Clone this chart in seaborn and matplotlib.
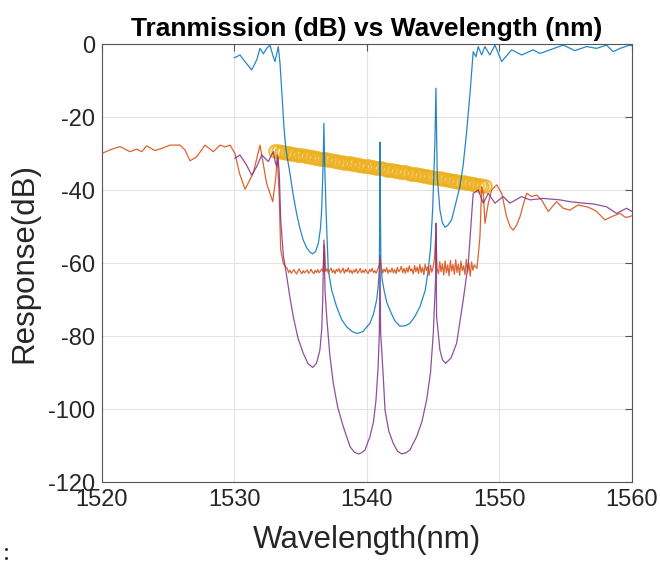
import numpy as np
import matplotlib
matplotlib.use("Agg")
import matplotlib.pyplot as plt
import seaborn as sns

# ---- data (wavelength in nm, response in dB) ----
blue_wl = [1530.0, 1530.43, 1530.8, 1531.31, 1531.69, 1531.94, 1532.19, 1532.44, 1532.69, 1532.94,
           1533.07, 1533.32, 1533.45, 1533.6, 1533.75, 1533.9, 1534.2, 1534.45, 1534.7, 1534.95,
           1535.2, 1535.46, 1535.7, 1535.91, 1536.14, 1536.34, 1536.5, 1536.59, 1536.71, 1536.76,
           1536.81, 1536.92, 1537.09, 1537.35, 1537.72, 1538.1, 1538.48, 1538.9, 1539.28, 1539.7,
           1540.23, 1540.5, 1540.74, 1540.85, 1540.94, 1540.97, 1540.99, 1541.02, 1541.06, 1541.15,
           1541.3, 1541.5, 1541.74, 1542.1, 1542.5, 1542.9, 1543.25, 1543.6, 1544.0, 1544.4,
           1544.63, 1544.8, 1544.96, 1545.13, 1545.21, 1545.31, 1545.51, 1545.7, 1545.89, 1546.1,
           1546.39, 1546.77, 1547.02, 1547.27, 1547.5, 1547.77, 1548.02, 1548.23, 1548.4, 1548.66,
           1548.9, 1549.28, 1549.66, 1550.17, 1550.92, 1551.67, 1552.55, 1553.05, 1553.81, 1554.81,
           1555.69, 1556.58, 1557.33, 1558.08, 1558.58, 1559.09, 1559.84, 1560.0]
blue_db = [-3.8, -3.0, -4.8, -7.1, -4.4, -1.2, -2.7, -1.2, -0.3, -3.5,
           -4.8, -0.7, -5.3, -14.0, -23.0, -29.0, -35.5, -41.5, -46.4, -50.5,
           -53.7, -55.8, -57.0, -57.5, -56.8, -54.6, -50.5, -45.5, -31.8, -21.7,
           -31.8, -45.5, -61.9, -67.5, -72.0, -75.5, -77.5, -78.8, -79.3, -78.8,
           -76.5, -74.0, -70.1, -66.5, -61.9, -45.5, -26.9, -45.5, -60.0, -64.5,
           -67.5, -70.8, -72.9, -75.8, -77.3, -77.2, -76.5, -74.8, -72.0, -67.5,
           -61.9, -56.0, -45.5, -27.2, -12.1, -36.4, -45.5, -49.0, -50.2, -49.7,
           -48.2, -42.7, -39.0, -33.0, -25.0, -14.0, -2.1, -3.5, -0.7, -3.0,
           -0.7, -3.0, -0.3, -4.8, -1.6, -3.0, -1.6, -2.6, -1.6, -0.3,
           -1.8, -0.7, -1.2, -0.3, -2.1, -1.2, -0.3, -0.5]

purple_wl = [1530.05, 1530.43, 1530.93, 1531.31, 1531.69, 1532.07, 1532.57, 1532.94, 1533.1, 1533.2,
             1533.3, 1533.4, 1533.5, 1533.7, 1533.95, 1534.2, 1534.45, 1534.8, 1535.2, 1535.55,
             1535.91, 1536.2, 1536.46, 1536.6, 1536.67, 1536.76, 1536.85, 1536.97, 1537.2, 1537.47,
             1537.8, 1538.22, 1538.73, 1539.05, 1539.35, 1539.6, 1539.86, 1540.23, 1540.5, 1540.69,
             1540.85, 1540.94, 1540.99, 1541.04, 1541.12, 1541.25, 1541.37, 1541.65, 1541.99, 1542.3,
             1542.62, 1542.95, 1543.25, 1543.75, 1544.15, 1544.51, 1544.8, 1545.01, 1545.19, 1545.21,
             1545.26, 1545.51, 1545.7, 1545.94, 1546.35, 1546.77, 1547.27, 1547.65, 1548.02, 1548.4,
             1548.78, 1549.16, 1549.66, 1550.29, 1550.79, 1551.67, 1552.3, 1553.3, 1554.56, 1555.32,
             1556.32, 1557.07, 1558.08, 1558.84, 1559.59, 1560.0]
purple_db = [-31.3, -30.4, -33.2, -35.9, -33.6, -30.4, -32.2, -29.5, -32.5, -33.5,
             -31.0, -36.0, -48.0, -58.0, -63.5, -69.5, -74.7, -80.5, -84.7, -87.5,
             -88.6, -87.5, -83.8, -78.0, -70.1, -53.7, -68.0, -74.7, -85.0, -93.0,
             -99.5, -104.8, -110.3, -111.8, -112.3, -112.0, -111.2, -107.6, -103.5, -97.5,
             -88.5, -79.3, -58.0, -79.3, -83.8, -92.0, -100.3, -106.0, -109.4, -111.5,
             -112.3, -112.0, -111.2, -107.6, -103.5, -97.5, -90.0, -79.3, -63.8, -49.1,
             -74.7, -83.8, -86.5, -87.5, -86.0, -82.0, -70.1, -60.0, -40.9, -40.0,
             -43.6, -40.9, -43.6, -41.8, -43.6, -41.8, -42.7, -42.3, -42.7, -43.2,
             -43.6, -43.8, -44.6, -46.4, -45.0, -45.9]

orange_left_wl = [1520.0, 1520.63, 1521.38, 1522.13, 1522.64, 1523.02, 1523.39, 1524.02, 1524.6, 1525.15,
                  1525.9, 1526.28, 1526.66, 1527.16, 1527.79, 1528.42, 1528.92, 1529.3, 1529.68, 1530.05,
                  1530.4, 1530.81, 1531.43, 1531.94, 1532.44, 1532.9, 1533.14, 1533.24, 1533.39, 1533.5,
                  1533.7, 1533.9]
orange_left_db = [-30.0, -29.0, -28.1, -29.5, -28.8, -29.5, -27.9, -29.2, -28.5, -27.7,
                  -27.7, -29.0, -32.0, -30.9, -27.7, -29.5, -27.7, -28.2, -27.7, -30.0,
                  -35.5, -39.8, -35.4, -27.7, -38.2, -43.2, -36.3, -30.4, -41.8, -56.4,
                  -60.1, -61.2]

# noisy stop-band floor, sampled every 0.1 nm from 1534.0 nm
orange_floor_start = 1534.0
orange_floor_step = 0.1
orange_floor_db = [
    -61.5, -62.6, -62.0, -62.8, -62.3, -61.8, -62.5, -63.0, -62.2, -61.6,
    -62.4, -62.9, -62.1, -62.7, -62.3, -61.9, -62.8, -62.4, -61.7, -62.5,
    -62.9, -62.0, -62.6, -61.8, -62.7, -62.2, -61.6, -62.4, -55.0, -62.3,
    -61.6, -62.8, -62.0, -61.4, -62.6, -61.9, -62.9, -61.7, -62.3, -61.5,
    -62.7, -62.1, -61.4, -62.8, -61.8, -62.4, -61.3, -62.6, -62.0, -62.9,
    -61.9, -62.5, -61.6, -62.8, -62.2, -61.5, -62.7, -62.0, -62.6, -61.7,
    -62.4, -62.9, -61.8, -62.3, -61.5, -62.6, -62.1, -62.8, -61.9, -61.0,
    -59.2, -61.2, -62.7, -61.7, -62.4, -61.3, -62.8, -61.9, -62.5, -61.4,
    -62.7, -61.8, -62.9, -61.2, -62.4, -61.9, -60.9, -62.6, -61.5, -62.8,
    -61.3, -62.5, -60.8, -62.2, -61.6, -63.0, -60.7, -62.4, -61.1, -62.9,
    -60.4, -62.6, -61.2, -63.2, -60.3, -62.1, -61.0, -63.4, -60.6, -62.5,
    -61.2, -58.8, -52.0, -61.5, -63.0, -59.6, -62.4, -60.2, -63.3, -59.4,
    -62.7, -60.5, -63.5, -59.3, -62.2, -60.4, -63.1, -59.1, -62.6, -60.3,
    -63.4, -59.5, -62.1, -60.8, -63.2, -59.0, -62.5, -60.1, -63.6, -59.7,
    -62.0, -60.5, -61.0]

orange_right_wl = [1548.3, 1548.4, 1548.53, 1548.66, 1548.78, 1548.91, 1549.16, 1549.41, 1549.79, 1550.17,
                   1550.54, 1550.8, 1551.04, 1551.3, 1551.55, 1551.8, 1552.05, 1552.43, 1552.8, 1553.18,
                   1553.68, 1554.0, 1554.31, 1554.81, 1555.32, 1555.94, 1556.58, 1557.0, 1557.33, 1557.96,
                   1558.46, 1559.09, 1559.5, 1559.84, 1560.0]
orange_right_db = [-61.5, -58.0, -52.8, -39.1, -40.9, -49.1, -43.6, -40.0, -38.6, -40.9,
                   -47.3, -50.0, -51.0, -49.6, -47.3, -44.0, -40.9, -41.8, -41.4, -42.7,
                   -45.9, -44.5, -43.2, -45.0, -45.5, -44.1, -44.6, -45.2, -45.9, -48.2,
                   -47.3, -46.4, -47.5, -47.3, -47.0]

# linear reference line drawn as dense open circles
yellow_wl = [1533.1, 1533.3, 1533.5, 1533.7, 1533.9, 1534.1, 1534.3, 1534.5, 1534.7, 1534.9,
             1535.1, 1535.3, 1535.5, 1535.7, 1535.9, 1536.1, 1536.3, 1536.5, 1536.7, 1536.9,
             1537.1, 1537.3, 1537.5, 1537.7, 1537.9, 1538.1, 1538.3, 1538.5, 1538.7, 1538.9,
             1539.1, 1539.3, 1539.5, 1539.7, 1539.9, 1540.1, 1540.3, 1540.5, 1540.7, 1540.9,
             1541.1, 1541.3, 1541.5, 1541.7, 1541.9, 1542.1, 1542.3, 1542.5, 1542.7, 1542.9,
             1543.1, 1543.3, 1543.5, 1543.7, 1543.9, 1544.1, 1544.3, 1544.5, 1544.7, 1544.9,
             1545.1, 1545.3, 1545.5, 1545.7, 1545.9, 1546.1, 1546.3, 1546.5, 1546.7, 1546.9,
             1547.1, 1547.3, 1547.5, 1547.7, 1547.9, 1548.1, 1548.3, 1548.5, 1548.7, 1548.9]
yellow_db = [-29.3, -29.4, -29.5, -29.7, -29.8, -29.9, -30.0, -30.1, -30.3, -30.4,
             -30.5, -30.6, -30.8, -30.9, -31.0, -31.1, -31.2, -31.4, -31.5, -31.6,
             -31.7, -31.8, -32.0, -32.1, -32.2, -32.3, -32.5, -32.6, -32.7, -32.8,
             -32.9, -33.1, -33.2, -33.3, -33.4, -33.5, -33.7, -33.8, -33.9, -34.0,
             -34.1, -34.3, -34.4, -34.5, -34.6, -34.8, -34.9, -35.0, -35.1, -35.2,
             -35.4, -35.5, -35.6, -35.7, -35.8, -36.0, -36.1, -36.2, -36.3, -36.5,
             -36.6, -36.7, -36.8, -36.9, -37.1, -37.2, -37.3, -37.4, -37.5, -37.7,
             -37.8, -37.9, -38.0, -38.1, -38.3, -38.4, -38.5, -38.6, -38.8, -38.9]

x_ticks = [1520, 1530, 1540, 1550, 1560]
y_ticks = [-120, -100, -80, -60, -40, -20, 0]

# MATLAB default colour order
C_BLUE, C_ORANGE, C_YELLOW, C_PURPLE = "#0072BD", "#D95319", "#EDB120", "#7E2F8E"
AX_GRAY = "#262626"

orange_floor_wl = list(np.round(orange_floor_start + orange_floor_step * np.arange(len(orange_floor_db)), 2))
orange_wl = orange_left_wl + orange_floor_wl + orange_right_wl
orange_db = orange_left_db + orange_floor_db + orange_right_db

# ---- plot ----
sns.set_theme(style="whitegrid")
plt.rcParams['font.family'] = ['Liberation Sans', 'DejaVu Sans']
plt.rcParams['axes.unicode_minus'] = False

fig = plt.figure(figsize=(6.6, 5.62), dpi=100)
ax = fig.add_axes([0.1541, 0.1423, 0.8035, 0.7794])
ax.set_facecolor("white")

sns.lineplot(x=yellow_wl, y=yellow_db, ax=ax, estimator=None, sort=False,
             marker='o', linestyle='none', markersize=9, color=C_YELLOW,
             markerfacecolor='none', markeredgecolor=C_YELLOW, markeredgewidth=1.5,
             alpha=0.85, zorder=2)
sns.lineplot(x=blue_wl, y=blue_db, ax=ax, estimator=None, sort=False,
             color=C_BLUE, linewidth=0.9, alpha=0.85, zorder=3)
sns.lineplot(x=orange_wl, y=orange_db, ax=ax, estimator=None, sort=False,
             color=C_ORANGE, linewidth=0.9, alpha=0.9, zorder=3)
sns.lineplot(x=purple_wl, y=purple_db, ax=ax, estimator=None, sort=False,
             color=C_PURPLE, linewidth=0.9, alpha=0.85, zorder=4)

ax.set_xlim(1520, 1560)
ax.set_ylim(-120, 0)
ax.set_xticks(x_ticks)
ax.set_yticks(y_ticks)
ax.grid(True, color="#e3e3e3", linewidth=0.8)
for sp in ax.spines.values():
    sp.set_visible(True)
    sp.set_color("#555555")
    sp.set_linewidth(0.8)
ax.tick_params(direction='in', length=5, width=0.8, color="#555555",
               top=True, right=True, labelsize=17, labelcolor=AX_GRAY, pad=5)

ax.set_title("Tranmission (dB) vs Wavelength (nm)", fontsize=19, fontweight='bold',
             color='black', pad=6)
ax.set_xlabel("Wavelength(nm)", fontsize=22.5, color=AX_GRAY, labelpad=10)
ax.set_ylabel("Response(dB)", fontsize=22.5, color=AX_GRAY, labelpad=6)

# stray character left over at the bottom-left corner of the screenshot
fig.text(0.004, 0.003, ":", fontsize=18, family='Liberation Serif', va='baseline')

fig.savefig("out.png", dpi=100)
